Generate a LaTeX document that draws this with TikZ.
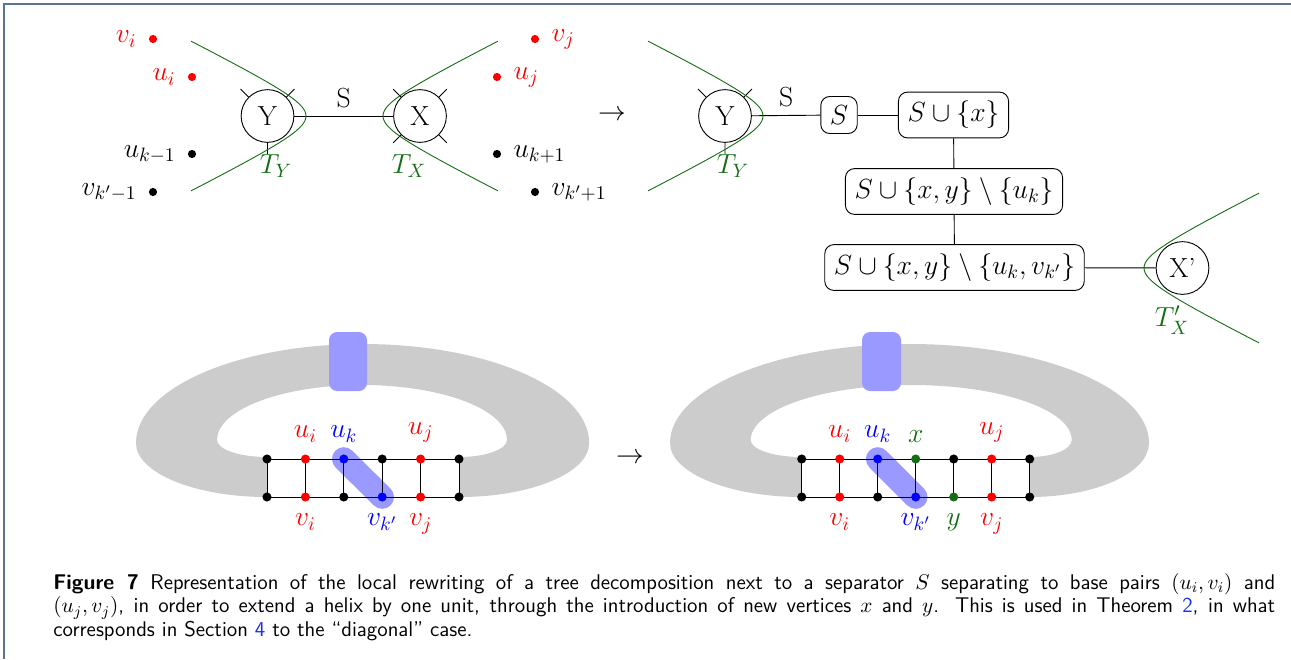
\RequirePackage{fix-cm}
\documentclass[tikz,border=0pt]{standalone}
\usepackage{amsmath,amssymb}
\usepackage{tikz}
\usetikzlibrary{positioning}
\definecolor{tdgreen}{RGB}{20,110,20}
\definecolor{framegray}{RGB}{90,115,150}
\definecolor{linkblue}{RGB}{25,50,230}

\begin{document}
\begin{tikzpicture}[x=0.55pt,y=-0.55pt,font=\fontsize{15.2}{18}\selectfont,line width=0.5pt,
    bag/.style={circle,draw,minimum size=29pt,inner sep=0pt},
    sepbox/.style={draw,rounded corners=5pt,inner sep=5pt},
    pt/.style={circle,fill,inner sep=0pt,minimum size=4.5pt},
    lpt/.style={circle,fill,inner sep=0pt,minimum size=5pt},
    sepline/.style={tdgreen,domain=-2.03:2.03,samples=40,variable=\t},
    every label/.style={label distance=3pt}]
    \useasboundingbox (0,0) rectangle (1291,659);
    \draw[framegray,line width=1.1pt] (4,659) -- (4,4) -- (1291,4);

    % before the rewriting
    \node[pt,red,label={[red]left:$v_i$}] (vi) at (153,39) {};
    \node[pt,red,label={[red]left:$u_i$}] (ui) at (192,77) {};
    \node[pt,label={left:$u_{k-1}$}] (ukm) at (192,154) {};
    \node[pt,label={left:$v_{k'-1}$}] (vkm) at (153,192) {};
    \node[pt,red,label={[red]right:$v_j$}] (vj) at (535,39) {};
    \node[pt,red,label={[red]right:$u_j$}] (uj) at (497,77) {};
    \node[pt,label={right:$u_{k+1}$}] (ukp) at (497,154) {};
    \node[pt,label={right:$v_{k'+1}$}] (vkp) at (535,192) {};
    \node[bag] (Y) at (267.5,116) {Y};
    \node[bag] (X) at (420,116) {X};
    \draw (Y) -- node[above=1pt]{S} (X);
    \draw (Y.45) -- ++(8,-8) (Y.135) -- ++(-8,-8) (Y.south) -- ++(0,11);
    \draw (X.45) -- ++(8,-8) (X.135) -- ++(-8,-8) (X.-45) -- ++(8,8) (X.-135) -- ++(-8,8);
    \draw[sepline] plot ({346-40*cosh(\t)},{116+20*sinh(\t)});
    \draw[sepline] plot ({343+40*cosh(\t)},{116+20*sinh(\t)});
    \node[tdgreen] (tY) at (276,166) {$T_Y$};
    \node[tdgreen] (tX) at (409,166) {$T_X$};
    \node (arr1) at (612,115) {$\rightarrow$};

    % after the rewriting
    \node[bag] (Y2) at (725,116) {Y};
    \node[sepbox] (bS) at (839,115) {$S$};
    \node[sepbox] (bSx) at (953.5,115) {$S\cup\{x\}$};
    \node[sepbox] (bSxy) at (954,191.5) {$S\cup\{x,y\}\setminus\{u_k\}$};
    \node[sepbox] (bSxyv) at (954.5,267.5) {$S\cup\{x,y\}\setminus\{u_k,v_{k'}\}$};
    \node[bag] (X2) at (1182.5,268) {X'};
    \draw (Y2) -- node[above=1pt]{S} (bS);
    \draw (bS) -- (bSx);
    \draw (bSx) -- (bSxy);
    \draw (bSxy) -- (bSxyv);
    \draw (bSxyv) -- (X2);
    \draw (Y2.45) -- ++(8,-8) (Y2.135) -- ++(-8,-8) (Y2.south) -- ++(0,11);
    \draw[sepline] plot ({803-40*cosh(\t)},{116+20*sinh(\t)});
    \draw[sepline] plot ({1104+40*cosh(\t)},{268+20*sinh(\t)});
    \node[tdgreen] (tY2) at (733,166) {$T_Y$};
    \node[tdgreen] (tX2) at (1172,320) {$T'_X$};

    % helix, left
    \fill[black!20] (267,497) arc[start angle=90,end angle=180,x radius=131,y radius=54]
      arc[start angle=180,end angle=360,x radius=226.6,y radius=99]
      arc[start angle=0,end angle=90,x radius=129.6,y radius=54] -- (459,457)
      arc[start angle=90,end angle=0,x radius=48,y radius=17]
      arc[start angle=0,end angle=-180,x radius=145,y radius=55]
      arc[start angle=180,end angle=90,x radius=50,y radius=17] -- cycle;
    \fill[blue!40,rounded corners=4.5pt] (329,332) rectangle (367,391);
    \foreach \i in {0,...,5}{
      \coordinate (lt\i) at ({267+38.4*\i},459);
      \coordinate (lb\i) at ({267+38.4*\i},497);}
    \draw[blue!40,line width=13pt,line cap=round] (lt2) -- (lb3);
    \draw (lt0) -- (lt5) (lb0) -- (lb5);
    \foreach \i in {0,...,5}{\draw (lt\i) -- (lb\i);}
    \foreach \i/\c in {0/black,1/red,2/blue,3/black,4/red,5/black}{\node[lpt,fill=\c] (lu\i) at (lt\i) {};}
    \foreach \i/\c in {0/black,1/red,2/black,3/blue,4/red,5/black}{\node[lpt,fill=\c] (lv\i) at (lb\i) {};}
    \node[red,above=3pt of lu1] {$u_i$};
    \node[blue,above=3pt of lu2] {$u_k$};
    \node[red,above=3pt of lu4] {$u_j$};
    \node[red,below=3pt of lv1] {$v_i$};
    \node[blue,below=3pt of lv3] {$v_{k'}$};
    \node[red,below=3pt of lv4] {$v_j$};
    \node (arr2) at (630,458) {$\rightarrow$};

    % helix, right
    \fill[black!20] (801.7,497) arc[start angle=90,end angle=180,x radius=131.7,y radius=54]
      arc[start angle=180,end angle=360,x radius=239.5,y radius=99]
      arc[start angle=0,end angle=90,x radius=119.3,y radius=54] -- (1029.7,457)
      arc[start angle=90,end angle=0,x radius=42,y radius=17]
      arc[start angle=0,end angle=-180,x radius=160.5,y radius=55]
      arc[start angle=180,end angle=90,x radius=50.7,y radius=17] -- cycle;
    \fill[blue!40,rounded corners=4.5pt] (862,332) rectangle (901,391);
    \foreach \i in {0,...,6}{
      \coordinate (rt\i) at ({801.7+38*\i},459);
      \coordinate (rb\i) at ({801.7+38*\i},497);}
    \draw[blue!40,line width=13pt,line cap=round] (rt2) -- (rb3);
    \draw (rt0) -- (rt6) (rb0) -- (rb6);
    \foreach \i in {0,...,6}{\draw (rt\i) -- (rb\i);}
    \foreach \i/\c in {0/black,1/red,2/blue,3/tdgreen,4/black,5/red,6/black}{\node[lpt,fill=\c] (ru\i) at (rt\i) {};}
    \foreach \i/\c in {0/black,1/red,2/black,3/blue,4/tdgreen,5/red,6/black}{\node[lpt,fill=\c] (rv\i) at (rb\i) {};}
    \node[red,above=3pt of ru1] {$u_i$};
    \node[blue,above=3pt of ru2] {$u_k$};
    \node[tdgreen,above=3pt of ru3] {$x$};
    \node[red,above=3pt of ru5] {$u_j$};
    \node[red,below=3pt of rv1] {$v_i$};
    \node[blue,below=3pt of rv3] {$v_{k'}$};
    \node[tdgreen,below=3pt of rv4] {$y$};
    \node[red,below=3pt of rv5] {$v_j$};

    % caption
    \node[anchor=north west,text width=672pt,align=justify,inner sep=0pt,
      font=\fontsize{11.7}{12.9}\selectfont\sffamily] (cap) at (53,573)
      {\textbf{Figure 7} Representation of the local rewriting of a tree decomposition next to a separator $S$ separating to base pairs $(u_i,v_i)$ and\linebreak
      $(u_j,v_j)$, in order to extend a helix by one unit, through the introduction of new vertices $x$ and $y$. This is used in Theorem {\color{linkblue}2}, in what\linebreak
      corresponds in Section {\color{linkblue}4} to the ``diagonal'' case.};
\end{tikzpicture}
\end{document}
